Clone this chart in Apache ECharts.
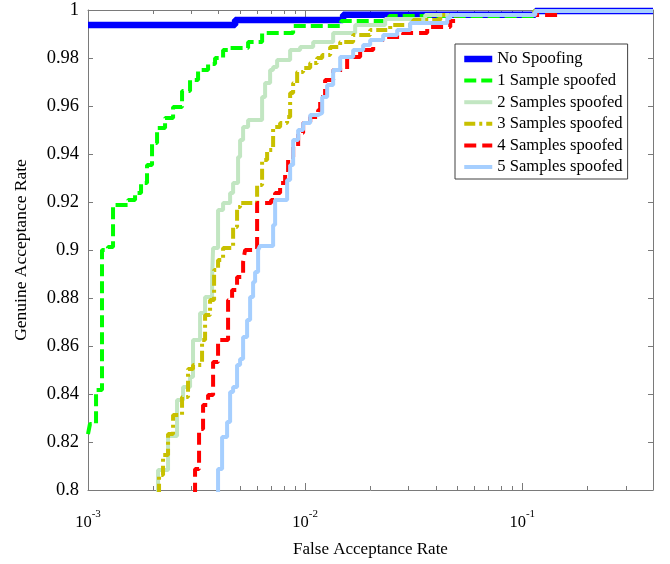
<!DOCTYPE html>
<html><head><meta charset="utf-8">
<script src="https://cdn.jsdelivr.net/npm/echarts@6/dist/echarts.min.js"></script>
<style>html,body{margin:0;padding:0;background:#fff}#c{width:670px;height:564px}</style>
</head><body><div id="c"></div>
<script>
const seriesNames = ['No Spoofing', '1 Sample spoofed', '2 Samples spoofed', '3 Samples spoofed', '4 Samples spoofed', '5 Samples spoofed'];
const majorTicks = [0.001, 0.01, 0.1];
const minorTicks = [0.002, 0.003, 0.004, 0.005, 0.006, 0.007, 0.008, 0.009,
  0.02, 0.03, 0.04, 0.05, 0.06, 0.07, 0.08, 0.09, 0.2, 0.3];

// No Spoofing
const far0 = [0.001, 0.004758, 0.01496, 0.1148, 0.4];
const gar0 = [0.99375, 0.9958, 0.998, 0.99958, 0.99958];
// 1 Sample spoofed
const far1 = [0.001, 0.001021, 0.001089, 0.00116, 0.001236, 0.001304, 0.001529, 0.001647, 0.001755, 0.00187, 0.001972, 0.00208, 0.002264, 0.002465, 0.002711, 0.002951, 0.003213, 0.003573, 0.003848, 0.00419, 0.004512, 0.005462, 0.006337, 0.008805, 0.01465, 0.02438, 0.1136, 0.4];
const gar1 = [0.8233, 0.8275, 0.8417, 0.9, 0.9013, 0.9188, 0.9208, 0.9238, 0.9279, 0.9354, 0.9446, 0.9508, 0.955, 0.9596, 0.9663, 0.9708, 0.975, 0.9775, 0.98, 0.9833, 0.9842, 0.9867, 0.9904, 0.9933, 0.9954, 0.9975, 0.9996, 0.9996];
// 2 Samples spoofed
const far2 = [0.002102, 0.002102, 0.002337, 0.002571, 0.00274, 0.002952, 0.003046, 0.003282, 0.003461, 0.003728, 0.003768, 0.003972, 0.004189, 0.004513, 0.004659, 0.004911, 0.005017, 0.00518, 0.005462, 0.006336, 0.006541, 0.006898, 0.007121, 0.00743, 0.008529, 0.009484, 0.01089, 0.01346, 0.017, 0.02337, 0.03573, 0.1136, 0.4];
const gar2 = [0.798, 0.80833, 0.8225, 0.8375, 0.84292, 0.84708, 0.8625, 0.87375, 0.88042, 0.88875, 0.90083, 0.91667, 0.91958, 0.92375, 0.92792, 0.93875, 0.94583, 0.95125, 0.95417, 0.96375, 0.96958, 0.975, 0.97625, 0.97917, 0.98333, 0.98458, 0.98667, 0.99042, 0.99375, 0.99625, 0.99792, 0.99958, 0.99958];
// 3 Samples spoofed
const far3 = [0.002124, 0.002124, 0.002216, 0.002337, 0.002465, 0.002711, 0.002889, 0.003046, 0.003352, 0.003461, 0.003649, 0.003808, 0.003972, 0.004189, 0.004659, 0.004859, 0.005017, 0.006009, 0.006336, 0.006682, 0.007121, 0.007669, 0.008261, 0.008529, 0.008805, 0.009187, 0.009789, 0.01055, 0.01136, 0.01198, 0.01304, 0.0145, 0.01664, 0.01993, 0.02465, 0.03146, 0.04189, 0.1136, 0.4];
const gar3 = [0.798, 0.80625, 0.81458, 0.82333, 0.83125, 0.83875, 0.85042, 0.85208, 0.8625, 0.87292, 0.87917, 0.89167, 0.89583, 0.90083, 0.90958, 0.91792, 0.91958, 0.92708, 0.9375, 0.94167, 0.95125, 0.95292, 0.95542, 0.96542, 0.96958, 0.97417, 0.97583, 0.97792, 0.98, 0.98125, 0.98458, 0.98667, 0.98958, 0.99167, 0.99375, 0.99583, 0.99792, 0.99958, 0.99958];
// 4 Samples spoofed
const far4 = [0.003112, 0.003112, 0.003247, 0.003388, 0.003573, 0.003768, 0.003972, 0.004417, 0.004609, 0.004859, 0.00518, 0.005291, 0.006009, 0.006971, 0.007274, 0.007669, 0.008088, 0.008349, 0.008805, 0.009285, 0.009789, 0.01055, 0.01148, 0.01173, 0.01236, 0.01346, 0.01561, 0.01792, 0.02058, 0.02387, 0.02829, 0.03649, 0.04659, 0.05017, 0.145, 0.4];
const gar4 = [0.798, 0.80875, 0.82542, 0.83542, 0.83958, 0.85333, 0.8625, 0.87917, 0.88333, 0.88875, 0.895, 0.9, 0.91958, 0.92083, 0.92375, 0.92792, 0.93333, 0.93875, 0.94292, 0.94875, 0.95292, 0.95542, 0.95833, 0.96375, 0.97083, 0.975, 0.98042, 0.98333, 0.9875, 0.98875, 0.99042, 0.99292, 0.99542, 0.99792, 0.99958, 0.99958];
// 5 Samples spoofed
const far5 = [0.003972, 0.003972, 0.004145, 0.004371, 0.004513, 0.004659, 0.004859, 0.005017, 0.00518, 0.005404, 0.00558, 0.005759, 0.005883, 0.006073, 0.006202, 0.007121, 0.007274, 0.008261, 0.008529, 0.008805, 0.009285, 0.009789, 0.01055, 0.01148, 0.01198, 0.01263, 0.01346, 0.0145, 0.01664, 0.0185, 0.01993, 0.02288, 0.02654, 0.03046, 0.04513, 0.04659, 0.1148, 0.4];
const gar5 = [0.798, 0.80875, 0.82208, 0.82833, 0.84083, 0.84292, 0.85208, 0.85458, 0.86375, 0.87083, 0.88042, 0.88667, 0.89083, 0.9, 0.90167, 0.91042, 0.92083, 0.92917, 0.93542, 0.94583, 0.95, 0.95292, 0.95625, 0.95708, 0.96375, 0.96875, 0.975, 0.98042, 0.98333, 0.98542, 0.9875, 0.98958, 0.99167, 0.99458, 0.99667, 0.99792, 0.99958, 0.99958];

const FONT = "'Liberation Serif', 'Times New Roman', serif";
const AX = '#7a7a7a';
const zip = (a, b) => a.map((v, i) => [v, b[i]]);

const styles = [
  {color: '#0000ff', width: 6.5, type: 'solid'},
  {color: '#00ff00', width: 4, type: [12, 5]},
  {color: '#c2e6c2', width: 4, type: 'solid'},
  {color: '#c8c000', width: 4, type: [11, 4, 3, 4]},
  {color: '#ff0000', width: 4, type: [12, 6]},
  {color: '#a6cfff', width: 4, type: 'solid'}
];
const fars = [far0, far1, far2, far3, far4, far5];
const gars = [gar0, gar1, gar2, gar3, gar4, gar5];

const logBase = {type: 'log', logBase: 10, min: 0.001, max: 0.4,
  splitLine: {show: false}, axisLabel: {show: false}, axisTick: {show: false}, axisLine: {show: false}};
const tickStyle = {color: AX, width: 1};

const option = {
  animation: false,
  backgroundColor: '#fff',
  grid: {left: 88, right: 17, top: 10, bottom: 74},
  legend: {
    orient: 'vertical', left: 455, top: 44, padding: [6, 5, 3, 6], itemGap: 3.6,
    itemWidth: 28, itemHeight: 1, backgroundColor: '#fff', borderColor: '#404040', borderWidth: 1,
    itemStyle: {opacity: 0},
    textStyle: {fontFamily: FONT, fontSize: 16.6, color: '#000', lineHeight: 18},
    data: seriesNames.map((n, i) => ({name: n, lineStyle: {width: styles[i].width, color: styles[i].color, type: styles[i].type}})),
    selectedMode: false
  },
  xAxis: [
    Object.assign({}, logBase, {
      position: 'bottom',
      axisLine: {show: true, lineStyle: tickStyle},
      axisTick: {show: true, inside: true, length: 7, customValues: majorTicks, lineStyle: tickStyle},
      axisLabel: {show: true, customValues: majorTicks, margin: 19,
        formatter: function (v) {
          const e = Math.round(Math.log10(v));
          if (Math.abs(v / Math.pow(10, e) - 1) > 1e-6) return '';
          return '{b|10}{s|' + e + '}';
        },
        rich: {
          b: {fontSize: 16.5, fontFamily: FONT, color: '#000', lineHeight: 22, verticalAlign: 'bottom'},
          s: {fontSize: 11, fontFamily: FONT, color: '#000', lineHeight: 8, verticalAlign: 'top'}
        }
      },
      name: 'False Acceptance Rate', nameLocation: 'middle', nameGap: 51,
      nameTextStyle: {fontFamily: FONT, fontSize: 17, color: '#000'}
    }),
    Object.assign({}, logBase, {
      position: 'bottom',
      axisTick: {show: true, inside: true, length: 4, customValues: minorTicks, lineStyle: tickStyle}
    }),
    Object.assign({}, logBase, {
      position: 'top',
      axisLine: {show: true, lineStyle: tickStyle},
      axisTick: {show: true, inside: true, length: 7, customValues: majorTicks, lineStyle: tickStyle}
    }),
    Object.assign({}, logBase, {
      position: 'top',
      axisTick: {show: true, inside: true, length: 4, customValues: minorTicks, lineStyle: tickStyle}
    })
  ],
  yAxis: [
    {type: 'value', min: 0.8, max: 1, interval: 0.02, position: 'left',
      axisLine: {show: true, onZero: false, lineStyle: tickStyle},
      axisTick: {show: true, inside: true, length: 5, lineStyle: tickStyle},
      axisLabel: {margin: 9, fontSize: 18.5, fontFamily: FONT, color: '#000'},
      splitLine: {show: false},
      name: 'Genuine Acceptance Rate', nameLocation: 'middle', nameGap: 58, nameRotate: 90,
      nameTextStyle: {fontFamily: FONT, fontSize: 17.5, color: '#000'}
    },
    {type: 'value', min: 0.8, max: 1, interval: 0.02, position: 'right',
      axisLine: {show: true, onZero: false, lineStyle: tickStyle},
      axisTick: {show: true, inside: true, length: 5, lineStyle: tickStyle},
      axisLabel: {show: false}, splitLine: {show: false}
    }
  ],
  series: seriesNames.map((n, i) => ({
    name: n, type: 'line', step: 'end', symbol: 'none', showSymbol: false,
    xAxisIndex: 0, yAxisIndex: 0,
    data: zip(fars[i], gars[i]),
    lineStyle: styles[i], itemStyle: {color: styles[i].color},
    emphasis: {disabled: true}
  }))
};
const chart = echarts.init(document.getElementById('c'));
chart.setOption(option);
</script></body></html>
